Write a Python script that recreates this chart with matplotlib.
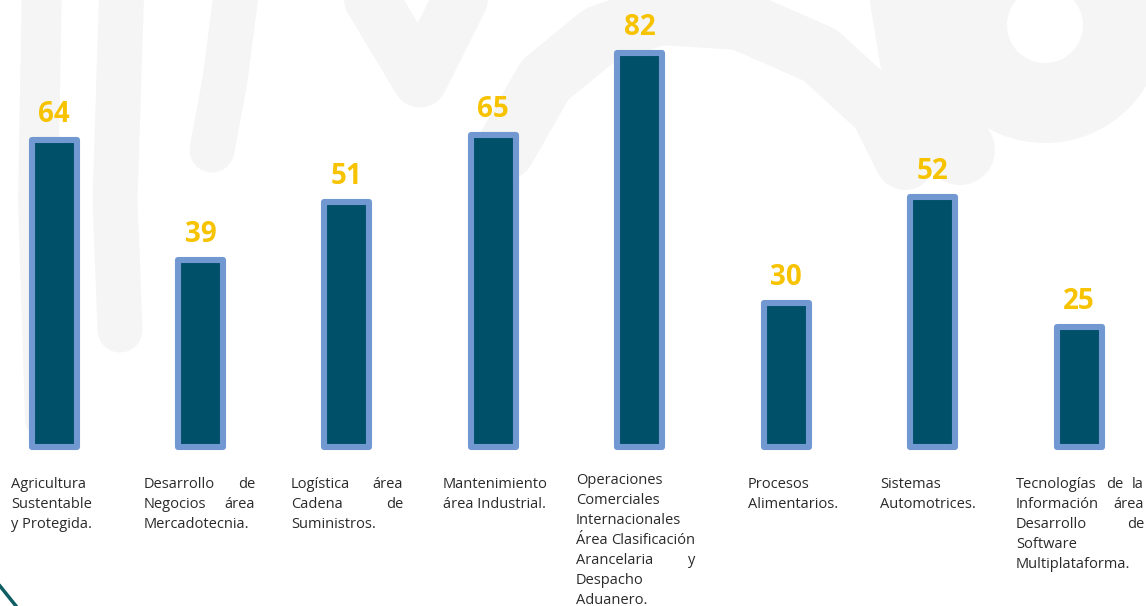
import matplotlib
matplotlib.use("Agg")
import matplotlib.pyplot as plt
from matplotlib.patches import Wedge
import numpy as np

categories = [
    ["Agricultura", "Sustentable", "y Protegida."],
    ["Desarrollo de", "Negocios área", "Mercadotecnia."],
    ["Logística área", "Cadena de", "Suministros."],
    ["Mantenimiento", "área Industrial."],
    ["Operaciones", "Comerciales", "Internacionales", "Área Clasificación",
     "Arancelaria y", "Despacho", "Aduanero."],
    ["Procesos", "Alimentarios."],
    ["Sistemas", "Automotrices."],
    ["Tecnologías de la", "Información área", "Desarrollo de", "Software",
     "Multiplataforma."],
]
values = [64, 39, 51, 65, 82, 30, 52, 25]

# layout (pixels)
W, H = 1146, 606
label_left = [11, 144, 291, 443, 576, 748, 880, 1016]
label_width = [82, 111, 112, 106, 119, 70, 100, 128]
label_top = [484, 484, 484, 484, 480, 484, 484, 484]
line_step = 20

FILL = "#00506A"
EDGE = "#7298D2"
GOLD = "#F7C300"
TXT = "#2A2A2A"
FONT = "Open Sans"
FS = 10.5

fig = plt.figure(figsize=(W / 100, H / 100), dpi=100)
fig.patch.set_facecolor("white")

# faint watermark in the background
bg = fig.add_axes([0, 0, 1, 1], zorder=0)
bg.set_xlim(0, W)
bg.set_ylim(H, 0)
bg.axis("off")
wm = "#F5F5F5"
k = 0.72  # px -> pt
bg.add_patch(Wedge((1045, 25), 118, 0, 360, width=80, color=wm, lw=0))
bg.plot([42, 38, 45], [-20, 200, 420], color=wm, lw=40 * k, solid_capstyle="round")
bg.plot([122, 115, 120], [-20, 200, 330], color=wm, lw=45 * k, solid_capstyle="round")
bg.plot([238, 225, 212], [-20, 80, 150], color=wm, lw=45 * k, solid_capstyle="round")
bg.plot([360, 420, 470], [-20, 80, -20], color=wm, lw=55 * k, solid_capstyle="round")
bg.plot([505, 545, 600, 660, 740, 820, 880, 905], [150, 80, 35, 15, 20, 55, 110, 160],
        color=wm, lw=60 * k, solid_capstyle="round")
bg.plot([905, 920, 960], [0, 90, 150], color=wm, lw=70 * k, solid_capstyle="round")
# teal curve in the bottom-left corner
bg.plot([0, 8, 16], [586, 596, 606], color="#0E5E63", lw=2.5)

ax = fig.add_axes([0, 0, 1, 1], zorder=1)
ax.patch.set_alpha(0)
step = 146.43
x0 = 54
y0 = 447
sy = 4.80
ax.set_xlim(-x0 / step, (W - x0) / step)
ax.set_ylim(-(H - y0) / sy, y0 / sy)
ax.axis("off")

x = np.arange(len(values))
ax.bar(x, values, width=45 / step, color=FILL, edgecolor=EDGE,
       linewidth=4.4, joinstyle="round", zorder=2)
for xi, v in zip(x, values):
    ax.annotate(str(v), (xi, v), xytext=(0, 8), textcoords="offset points",
                ha="center", va="bottom", fontsize=20, fontweight="bold",
                color=GOLD, family=FONT)

# justified category labels
fig.canvas.draw()
r = fig.canvas.get_renderer()
for lines, lx, lw_, ty in zip(categories, label_left, label_width, label_top):
    for j, line in enumerate(lines):
        yy = ty + j * line_step
        words = line.split(" ")
        last = j == len(lines) - 1
        if last or len(words) == 1:
            bg.text(lx, yy, line, ha="left", va="center", fontsize=FS,
                    color=TXT, family=FONT)
            continue
        objs = [bg.text(lx, yy, w, ha="left", va="center", fontsize=FS,
                        color=TXT, family=FONT) for w in words]
        widths = [o.get_window_extent(r).width for o in objs]
        gap = (lw_ - sum(widths)) / (len(words) - 1)
        gap = max(gap, 3)
        pos = lx
        for o, wdt in zip(objs, widths):
            o.set_x(pos)
            pos += wdt + gap

fig.savefig("out.png", dpi=100, facecolor="white")
